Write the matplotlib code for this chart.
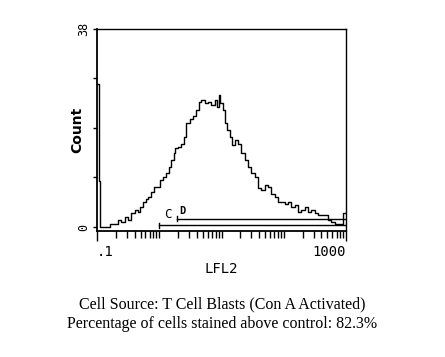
import numpy as np
import matplotlib
matplotlib.use('Agg')
import matplotlib.pyplot as plt
from matplotlib.ticker import LogLocator, NullFormatter, FixedLocator, FixedFormatter

# histogram trace (LFL2 intensity, count)
lfl2 = [0.10, 0.105, 0.11, 0.117, 0.204, 0.231, 0.261, 0.296, 0.334, 0.378, 0.428, 0.483,
        0.514, 0.582, 0.634, 0.700, 0.791, 0.873, 0.952, 1.08, 1.22, 1.38, 1.47,
        1.66, 1.76, 1.87, 2.12, 2.40, 2.55, 2.88, 3.26, 3.69, 4.17, 4.43, 5.02,
        5.68, 6.42, 7.26, 8.21, 8.73, 9.29, 9.88, 10.8, 11.9, 12.6, 14.3, 15.2,
        17.2, 19.4, 22.0, 24.9, 28.1, 31.8, 36.0, 40.7, 46.0, 52.1, 58.9, 66.6,
        75.3, 85.2, 96.3, 109, 123, 139, 158, 178, 202, 228, 258, 292, 330, 373,
        478, 540, 611, 691, 832, 952, 1000]
counts = [27.5, 27.5, 8.8, 0.0, 0.6, 1.3, 1.0, 1.9, 1.3, 2.6, 3.2, 2.9,
          3.9, 4.8, 5.4, 5.8, 6.7, 7.7, 7.7, 9.0, 9.6, 10.3, 11.5,
          12.8, 14.1, 15.1, 15.4, 16.0, 17.3, 19.9, 20.8, 21.2, 22.4, 24.0, 24.4,
          23.7, 24.0, 23.4, 24.4, 23.1, 25.3, 23.7, 22.4, 19.9, 18.6, 17.3, 15.7,
          16.7, 16.0, 14.1, 12.8, 11.5, 10.3, 9.6, 7.4, 7.1, 8.0, 7.7, 6.4,
          5.8, 4.8, 4.8, 4.5, 4.8, 3.9, 4.2, 2.9, 3.2, 3.9, 2.9, 3.2, 2.6, 2.2,
          2.2, 1.3, 1.0, 0.6, 0.5, 2.6, 2.6]

# marker gates: name, start, end, height
gate_names = ['C', 'D']
gate_start = [1.0, 1.95]
gate_end = [1000, 1000]
gate_level = [0.35, 1.6]

caption = ['Cell Source: T Cell Blasts (Con A Activated)',
           'Percentage of cells stained above control: 82.3%']

fig = plt.figure(figsize=(4.45, 3.57), dpi=100)
ax = fig.add_axes([0.218, 0.353, 0.560, 0.566])

ax.plot(lfl2, counts, color='black', lw=1.0, drawstyle='steps-mid')

for name, x0, x1, yv in zip(gate_names, gate_start, gate_end, gate_level):
    ax.plot([x0, x1], [yv, yv], color='black', lw=1.0)
    ax.plot([x0, x0], [yv - 0.5, yv + 0.5], color='black', lw=1.0)
ax.text(1.2, 1.2, 'C', fontsize=9, family='DejaVu Sans Mono', ha='left', va='bottom')
ax.text(2.1, 2.1, 'D', fontsize=7.5, family='DejaVu Sans Mono', weight='bold', ha='left', va='bottom')

ax.set_xscale('log')
ax.set_xlim(0.1, 1000)
ax.set_ylim(-0.77, 38)

ax.xaxis.set_major_locator(FixedLocator([0.1, 1000]))
ax.xaxis.set_major_formatter(FixedFormatter(['.1', '1000']))
ax.xaxis.set_minor_locator(LogLocator(base=10, subs=np.arange(1, 10) * 1.0, numticks=20))
ax.xaxis.set_minor_formatter(NullFormatter())
ax.tick_params(axis='x', which='minor', length=5, width=1.0, direction='out')
ax.tick_params(axis='x', which='major', length=7, width=1.0, direction='out', pad=3,
               labelsize=10)
for lab, ha in zip(ax.get_xticklabels(), ['left', 'right']):
    lab.set_horizontalalignment(ha)
    lab.set_family('DejaVu Sans Mono')

ax.set_yticks([0, 9.5, 19, 28.5, 38])
ax.set_yticklabels(['0', '', '', '', '38'])
ax.tick_params(axis='y', length=3, width=1.0, direction='out', pad=2, labelsize=8.5,
               labelrotation=90)
for lab in ax.get_yticklabels():
    lab.set_family('DejaVu Sans Mono')
    lab.set_verticalalignment('center')

ax.set_ylabel('Count', fontsize=10, weight='bold')
ax.yaxis.set_label_coords(-0.05, 0.5)
ax.set_xlabel('LFL2', fontsize=10, family='DejaVu Sans Mono', labelpad=2)

for sp in ax.spines.values():
    sp.set_linewidth(1.0)
ax.spines['left'].set_linewidth(1.3)
ax.spines['bottom'].set_linewidth(1.3)

fig.text(0.5, 0.147, caption[0], ha='center', va='center', fontsize=11.5,
         family='Liberation Serif')
fig.text(0.5, 0.092, caption[1], ha='center', va='center', fontsize=11.5,
         family='Liberation Serif')

fig.savefig('out.png', dpi=100, facecolor='white')
